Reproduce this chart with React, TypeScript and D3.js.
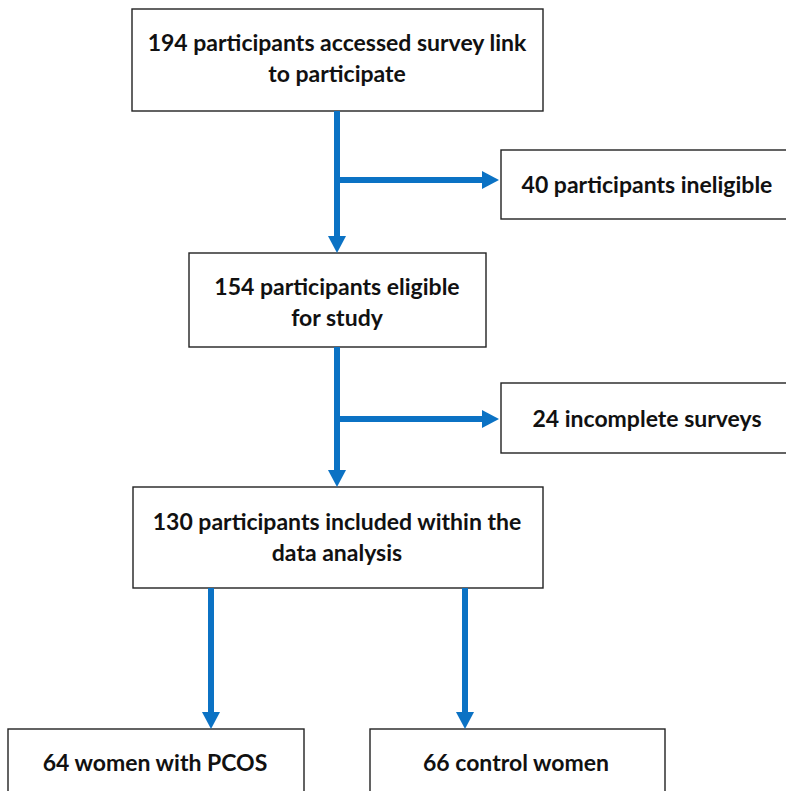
import React, { useEffect, useRef } from "react";
import * as d3 from "d3";

// Flow data
const stepCounts = [194, 40, 154, 24, 130, 64, 66];
const stepLabels = [
  ["194 participants accessed survey link", "to participate"],
  ["40 participants ineligible"],
  ["154 participants eligible", "for study"],
  ["24 incomplete surveys"],
  ["130 participants included within the", "data analysis"],
  ["64 women with PCOS"],
  ["66 control women"],
];

const W = 786;
const H = 791;
const BLUE = "#0B72C4";

export default function App() {
  const ref = useRef<SVGSVGElement>(null);

  useEffect(() => {
    document.body.style.margin = "0";
    const svg = d3.select(ref.current);
    svg.selectAll("*").remove();

    // layout boxes [x0, y0, x1, y1]
    const boxes: [number, number, number, number][] = [
      [132, 9, 543, 111],
      [501, 150, 800, 219],
      [189, 253, 486, 347],
      [501, 383, 800, 453],
      [133, 487, 543, 588],
      [8, 729, 304, 820],
      [370, 729, 665, 820],
    ];
    const textX = [337, 647, 337, 647, 337, 155, 516];
    const textY = [43, 185, 287, 419, 522, 763, 763];

    const g = svg.append("g");

    boxes.forEach((b, i) => {
      g.append("rect")
        .attr("x", b[0])
        .attr("y", b[1])
        .attr("width", b[2] - b[0])
        .attr("height", b[3] - b[1])
        .attr("fill", "#fff")
        .attr("stroke", "#222")
        .attr("stroke-width", 1.4);
      const lines = stepLabels[i];
      const t = g
        .append("text")
        .attr("text-anchor", "middle")
        .attr("font-family", "Lato, 'Open Sans', sans-serif")
        .attr("font-weight", 700)
        .attr("font-size", 23)
        .attr("fill", "#111")
        .attr("data-count", stepCounts[i]);
      lines.forEach((ln, j) => {
        t.append("tspan")
          .attr("x", textX[i])
          .attr("y", textY[i] + j * 31)
          .attr("dy", "0.35em")
          .text(ln);
      });
    });

    const line = d3.line<[number, number]>();
    const arrow = (x1: number, y1: number, x2: number, y2: number) => {
      const head = 17;
      const half = 9;
      const dx = Math.sign(x2 - x1);
      const dy = Math.sign(y2 - y1);
      const sx = x2 - dx * head;
      const sy = y2 - dy * head;
      g.append("path")
        .attr("d", line([[x1, y1], [sx, sy]]))
        .attr("stroke", BLUE)
        .attr("stroke-width", 6)
        .attr("fill", "none");
      const pts: [number, number][] =
        dx === 0
          ? [[x2 - half, sy], [x2 + half, sy], [x2, y2]]
          : [[sx, y2 - half], [sx, y2 + half], [x2, y2]];
      g.append("path")
        .attr("d", line(pts) + "Z")
        .attr("fill", BLUE);
    };

    arrow(337, 111, 337, 253);
    arrow(337, 180, 499, 180);
    arrow(337, 347, 337, 487);
    arrow(337, 419, 499, 419);
    arrow(211, 588, 211, 729);
    arrow(465, 588, 465, 729);
  }, []);

  return <svg ref={ref} width={W} height={H} style={{ display: "block" }} />;
}
